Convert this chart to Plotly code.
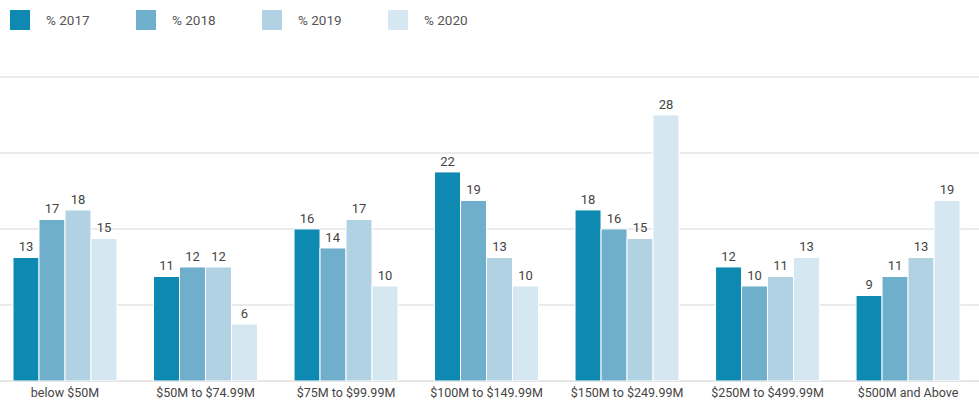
import plotly.graph_objects as go

categories = ["below $50M", "$50M to $74.99M", "$75M to $99.99M", "$100M to $149.99M",
              "$150M to $249.99M", "$250M to $499.99M", "$500M and Above"]
series_names = ["% 2017", "% 2018", "% 2019", "% 2020"]
v2017 = [13, 11, 16, 22, 18, 12, 9]
v2018 = [17, 12, 14, 19, 16, 10, 11]
v2019 = [18, 12, 17, 13, 15, 11, 13]
v2020 = [15, 6, 10, 10, 28, 13, 19]
values = [v2017, v2018, v2019, v2020]
colors = ["#0e8ab2", "#70afcc", "#b0d2e3", "#d5e7f1"]

W, H = 979, 402
L, R, T, B = 0, 0, 75, 21
PW, PH = W - L - R, H - T - B

FONT = "Liberation Sans Narrow, Roboto, Arial, sans-serif"

fig = go.Figure()
for name, vals, col in zip(series_names, values, colors):
    fig.add_trace(go.Bar(
        x=categories, y=vals, name=name,
        marker=dict(color=col, line=dict(color="white", width=1)),
        text=[str(v) for v in vals], textposition="outside",
        textfont=dict(size=13, color="#444444", family=FONT),
        cliponaxis=False, showlegend=False,
    ))

def px2paper_x(px):
    return (px - L) / PW

def px2paper_y(py):
    return 1 - (py - T) / PH

shapes = []
annotations = []
for i, (name, col) in enumerate(zip(series_names, colors)):
    x0 = 10 + i * 126
    shapes.append(dict(type="rect", xref="paper", yref="paper",
                       x0=px2paper_x(x0), x1=px2paper_x(x0 + 20),
                       y0=px2paper_y(30), y1=px2paper_y(10),
                       fillcolor=col, line=dict(width=0)))
    annotations.append(dict(xref="paper", yref="paper", x=px2paper_x(x0 + 34),
                            y=px2paper_y(20), text=name, showarrow=False,
                            xanchor="left", yanchor="middle",
                            font=dict(size=13.5, color="#555555", family=FONT)))

fig.update_layout(
    width=W, height=H,
    margin=dict(l=L, r=R, t=T, b=B),
    paper_bgcolor="white", plot_bgcolor="white",
    barmode="group", bargap=0.26, bargroupgap=0,
    shapes=shapes, annotations=annotations,
    font=dict(family=FONT, color="#444444"),
    xaxis=dict(range=[-0.4626, 6.505], showgrid=False, showline=False,
               ticks="", tickfont=dict(size=12.5, color="#444444", family=FONT),
               ticklabelstandoff=2, fixedrange=True),
    yaxis=dict(range=[0, 32.2], tickvals=[0, 8, 16, 24, 32], showticklabels=False,
               showgrid=True, gridcolor="#ebebeb", gridwidth=2, zeroline=True,
               zerolinecolor="#e6e6e6", zerolinewidth=2, showline=False,
               fixedrange=True),
)

fig.write_html("out.html", config={"displayModeBar": False},
               post_script="document.body.style.margin='0';")
